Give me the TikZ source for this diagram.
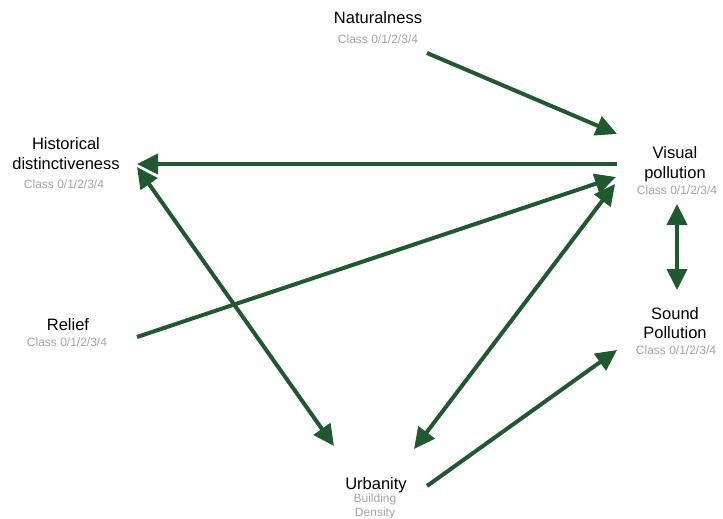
\documentclass[tikz,border=0pt]{standalone}
\usepackage{fontspec}
\setmainfont{Liberation Sans}
\usetikzlibrary{arrows.meta}
\definecolor{linkgreen}{HTML}{1E5A2E}
\definecolor{subgray}{HTML}{A3A3A3}
\begin{document}
\begin{tikzpicture}[x=1pt,y=-1pt,
  title/.style={anchor=base,align=center,text=black,inner sep=0pt,
    font=\fontsize{16.5}{20}\selectfont},
  sub/.style={anchor=base,align=center,text=subgray,inner sep=0pt,
    font=\fontsize{12}{14}\selectfont},
  link/.style={draw=linkgreen,line width=4pt,
    -{Triangle[length=21pt,width=20pt]}},
  biglink/.style={draw=linkgreen,line width=4pt,
    {Triangle[length=21pt,width=20pt]}-{Triangle[length=21pt,width=20pt]}}]
\useasboundingbox (0,0) rectangle (723,519);

% labels (base anchor = baseline of the last line)
\node[title] (nat) at (378,24) {Naturalness};
\node[sub] (natc) at (378,43.5) {Class 0/1/2/3/4};
\node[title] (hist) at (66,169) {Historical\\distinctiveness};
\node[sub] (histc) at (64,188) {Class 0/1/2/3/4};
\node[title] (vis) at (675,178) {Visual\\pollution};
\node[sub] (visc) at (677,194) {Class 0/1/2/3/4};
\node[title,font=\fontsize{16.5}{19}\selectfont] (snd) at (675,338) {Sound\\Pollution};
\node[sub] (sndc) at (676,354) {Class 0/1/2/3/4};
\node[title] (rel) at (68,330) {Relief};
\node[sub] (relc) at (67,346.5) {Class 0/1/2/3/4};
\node[title] (urb) at (376,489) {Urbanity};
\node[sub] (urbc) at (375,516.5) {Building\\Density};

% connector ends
\coordinate (natOut) at (427,53);
\coordinate (visInA) at (617,134);
\coordinate (visOutL) at (617,164);
\coordinate (histIn) at (137,164);
\coordinate (relOut) at (137,337);
\coordinate (visInB) at (616,177);
\coordinate (histB) at (137,167);
\coordinate (urbA) at (334,446);
\coordinate (visC) at (615,184);
\coordinate (urbB) at (414,449);
\coordinate (visD) at (677,204);
\coordinate (sndA) at (677,290);
\coordinate (urbOut) at (427,486);
\coordinate (sndIn) at (617,350);

% links
\draw[link] (natOut) -- (visInA);
\draw[link] (visOutL) -- (histIn);
\draw[link] (relOut) -- (visInB);
\draw[biglink] (histB) -- (urbA);
\draw[biglink] (visC) -- (urbB);
\draw[biglink] (visD) -- (sndA);
\draw[link] (urbOut) -- (sndIn);
\end{tikzpicture}
\end{document}
